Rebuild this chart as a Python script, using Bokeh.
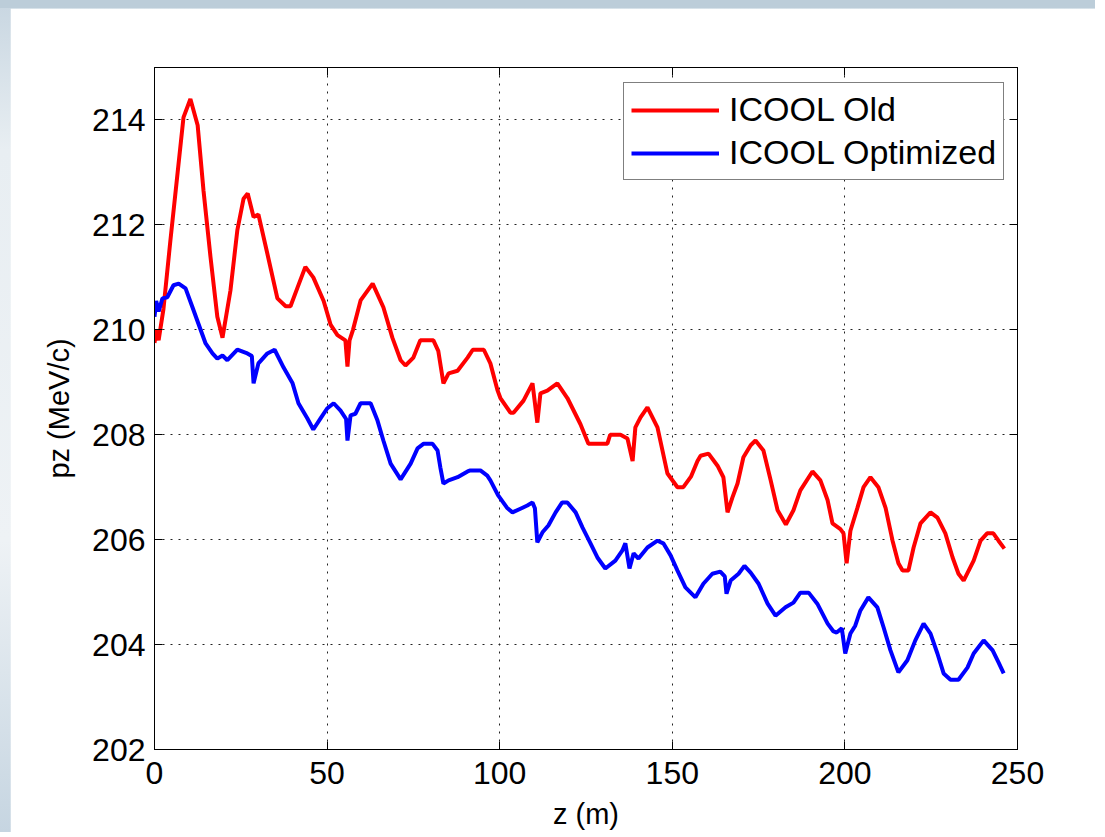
from bokeh.plotting import figure
from bokeh.models import (Range1d, LinearAxis, FixedTicker, CustomJSTickFormatter,
                          Legend, LegendItem)
from bokeh.layouts import column
from bokeh.embed import file_html
from bokeh.resources import INLINE

# Longitudinal momentum along the channel, two ICOOL runs
z_old = [0, 0.6, 1.2, 2.6, 4.6, 6.7, 8.4, 10.4, 12.5, 14.2, 16.2, 18.2, 19.7, 22, 24,
         25.8, 27, 28.7, 30.1, 32.7, 35.6, 38, 39.4, 41.4, 43.7, 46, 49, 51, 53, 55.3,
         55.9, 56.5, 57.5, 59.7, 63.2, 66.3, 68.9, 71.3, 72.7, 75, 77, 80.8, 82.2, 83.7,
         85.2, 87.8, 90.7, 92.2, 95.4, 97.3, 99.4, 100.2, 103.1, 104, 106.9, 109.5,
         110.9, 111.8, 113.8, 116.7, 119.6, 123.4, 125.7, 131.2, 132, 135, 137, 138.5,
         139.3, 140.8, 142.8, 145.7, 148.6, 151.5, 153.2, 155.4, 157.3, 158.2, 160.5,
         163.1, 164.8, 166, 167.4, 168.9, 170.6, 172.7, 174.1, 176.4, 178.5, 180.5,
         182.9, 185.1, 187.1, 190.6, 192.9, 195, 196.4, 198.7, 199.6, 200.5, 201.6,
         203.6, 205.4, 207.4, 209.7, 211.8, 213.8, 215.5, 216.7, 218.4, 219.9, 221.9,
         224.8, 226.8, 229.1, 231.2, 232.9, 234.4, 237.3, 239.3, 241.2, 243, 244.5, 246.2]
pz_old = [209.75, 210.0, 209.8, 210.4, 211.7, 213.0, 214.05, 214.4, 213.9, 212.65,
          211.4, 210.25, 209.85, 210.75, 211.9, 212.5, 212.6, 212.15, 212.2, 211.45,
          210.6, 210.45, 210.45, 210.8, 211.2, 211.0, 210.55, 210.1, 209.9, 209.8,
          209.3, 209.8, 210.0, 210.56, 210.88, 210.43, 209.85, 209.42, 209.32, 209.47,
          209.8, 209.8, 209.6, 208.98, 209.17, 209.22, 209.47, 209.62, 209.62, 209.36,
          208.84, 208.7, 208.42, 208.42, 208.65, 208.98, 208.23, 208.79, 208.84, 208.98,
          208.7, 208.2, 207.83, 207.83, 208.0, 208.0, 207.93, 207.5, 208.14, 208.33,
          208.52, 208.14, 207.26, 207.0, 207.0, 207.2, 207.5, 207.6, 207.64, 207.41,
          207.19, 206.52, 206.8, 207.07, 207.57, 207.8, 207.89, 207.7, 207.13, 206.56,
          206.29, 206.56, 206.94, 207.3, 207.13, 206.75, 206.31, 206.2, 206.12, 205.55,
          206.17, 206.6, 207.0, 207.19, 207.0, 206.6, 205.98, 205.55, 205.41, 205.41,
          205.85, 206.31, 206.52, 206.42, 206.12, 205.66, 205.35, 205.22, 205.6, 205.98,
          206.12, 206.12, 205.98, 205.83]

z_opt = [0, 0.5, 1.2, 2.3, 3.7, 5.5, 7, 9, 11, 12.7, 14.8, 16.8, 18.2, 19.7, 21.1, 24,
         26.9, 28.2, 28.7, 30.1, 32.7, 34.8, 37.4, 40, 41.7, 44.3, 46, 48.1, 50, 51.9,
         53.9, 55.5, 55.9, 56.8, 58.2, 59.7, 62.6, 64.6, 66.3, 68.4, 71.3, 74.2, 76.2,
         78, 80.5, 82, 82.8, 83.7, 85.2, 87.8, 90.7, 91.5, 94.4, 96.4, 97.3, 99.5, 102.1,
         103.7, 106, 108, 109.5, 110.2, 110.9, 112.4, 114.1, 116.2, 118.1, 119.6, 122,
         124, 126.3, 128.3, 130.6, 133.5, 135.5, 136.4, 137.6, 138.8, 140.2, 142.8,
         145.7, 147.4, 149.5, 151.5, 153.8, 156.7, 159, 161.6, 163.9, 165.2, 165.7,
         166.9, 169.2, 170.9, 172.7, 175, 177.6, 179.9, 182.8, 185.1, 187.1, 189.5, 192,
         195, 196.7, 197.6, 199.1, 200.1, 201.6, 203, 204.5, 206.8, 209.4, 211.2, 213.2,
         215.5, 218.1, 220.4, 222.8, 224.8, 226.8, 228.6, 230.6, 232.9, 235.5, 237.3,
         240.2, 242.8, 244.5, 246]
pz_opt = [210.25, 210.55, 210.35, 210.6, 210.62, 210.85, 210.88, 210.79, 210.43, 210.12,
          209.74, 209.55, 209.45, 209.51, 209.42, 209.62, 209.55, 209.5, 208.98, 209.36,
          209.55, 209.62, 209.28, 208.98, 208.6, 208.31, 208.1, 208.31, 208.5, 208.6,
          208.46, 208.3, 207.89, 208.37, 208.4, 208.6, 208.6, 208.27, 207.89, 207.45,
          207.15, 207.45, 207.74, 207.83, 207.83, 207.7, 207.38, 207.07, 207.13, 207.19,
          207.3, 207.32, 207.32, 207.22, 207.13, 206.85, 206.61, 206.52, 206.59, 206.65,
          206.71, 206.6, 205.95, 206.14, 206.27, 206.52, 206.71, 206.71, 206.52, 206.23,
          205.93, 205.66, 205.45, 205.6, 205.79, 205.93, 205.45, 205.74, 205.64, 205.85,
          205.98, 205.93, 205.7, 205.41, 205.09, 204.9, 205.16, 205.35, 205.39, 205.3,
          204.97, 205.22, 205.35, 205.5, 205.37, 205.16, 204.78, 204.55, 204.71, 204.8,
          204.99, 204.99, 204.78, 204.4, 204.25, 204.23, 204.31, 203.83, 204.21, 204.36,
          204.65, 204.9, 204.71, 204.33, 203.89, 203.47, 203.7, 204.08, 204.4, 204.21,
          203.83, 203.45, 203.33, 203.33, 203.56, 203.83, 204.08, 203.89, 203.66, 203.45]

x_ticks = [0, 50, 100, 150, 200, 250]
y_ticks = [202, 204, 206, 208, 210, 212, 214]
series_names = ["ICOOL Old", "ICOOL Optimized"]

FONT = "Liberation Sans"
TICK_SIZE = "32px"
LABEL_SIZE = "29px"

p = figure(frame_width=863, frame_height=682,
           x_range=Range1d(0, 250), y_range=Range1d(202, 215),
           output_backend="svg", toolbar_location=None,
           min_border_left=144, min_border_right=78, min_border_top=59,
           min_border_bottom=80,
           background_fill_color="white", border_fill_color="white")
p.margin = (8, 0, 0, 10)
p.outline_line_color = "black"
p.outline_line_width = 1

# dotted grid at every major tick
for g, ticks in ((p.xgrid, x_ticks), (p.ygrid, y_ticks)):
    g.ticker = FixedTicker(ticks=ticks)
    g.grid_line_color = "#222222"
    g.grid_line_dash = "2 6"
    g.grid_line_width = 1

def style_axis(ax, ticks):
    ax.ticker = FixedTicker(ticks=ticks)
    ax.axis_line_color = "black"
    ax.major_tick_in = 8
    ax.major_tick_out = 0
    ax.minor_tick_line_color = None
    ax.major_tick_line_color = "black"
    ax.major_label_text_font = FONT
    ax.major_label_text_font_size = TICK_SIZE
    ax.major_label_text_color = "black"
    ax.axis_label_text_font = FONT
    ax.axis_label_text_font_size = LABEL_SIZE
    ax.axis_label_text_font_style = "normal"
    ax.axis_label_text_color = "black"

style_axis(p.xaxis[0], x_ticks)
style_axis(p.yaxis[0], y_ticks)
p.xaxis[0].axis_label = "z (m)"
p.yaxis[0].axis_label = "pz (MeV/c)"
p.xaxis[0].major_label_standoff = 12
p.yaxis[0].major_label_standoff = 9
p.xaxis[0].axis_label_standoff = 11
p.yaxis[0].axis_label_standoff = 14

# box ticks on the top and right edges
blank = CustomJSTickFormatter(code="return ''")
top = LinearAxis(formatter=blank)
right = LinearAxis(formatter=blank)
style_axis(top, x_ticks)
style_axis(right, y_ticks)
top.major_label_text_font_size = "1px"
right.major_label_text_font_size = "1px"
top.major_label_standoff = 0
right.major_label_standoff = 0
p.add_layout(top, "above")
p.add_layout(right, "right")

r_old = p.line(z_old, pz_old, line_color="#ff0000", line_width=4)
r_opt = p.line(z_opt, pz_opt, line_color="#0000ff", line_width=4)

legend = Legend(items=[LegendItem(label=series_names[0], renderers=[r_old]),
                       LegendItem(label=series_names[1], renderers=[r_opt])],
                location=(469, 569), margin=0, padding=7, spacing=4,
                glyph_width=88, glyph_height=32, label_height=32,
                label_standoff=10,
                label_text_font=FONT, label_text_font_size="34px",
                label_text_color="black",
                border_line_color="black", border_line_width=1,
                background_fill_color="white", background_fill_alpha=1)
p.add_layout(legend)

page = column(p, margin=0, styles={
    "background": "linear-gradient(to bottom, #bccdd9 0px, #bccdd9 8px, transparent 8px),"
                  " linear-gradient(to bottom, #c8d6e1 0%, #e8eef2 18%, #eef2f5 65%, #c6d5e1 100%)"
})

open("out.html", "w").write(file_html(page, INLINE))
